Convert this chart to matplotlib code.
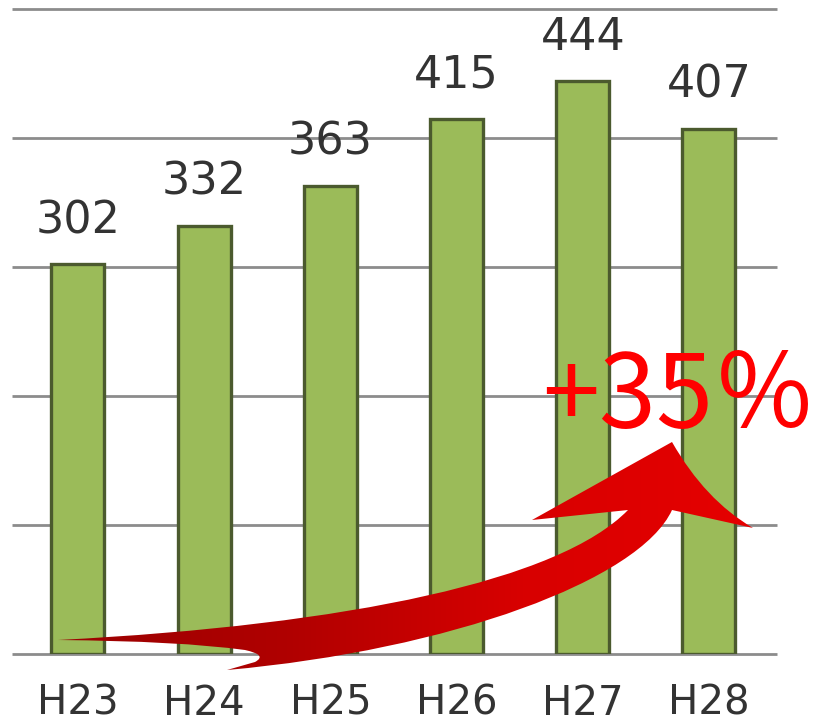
import matplotlib
matplotlib.use("Agg")
import matplotlib.pyplot as plt
import numpy as np
from matplotlib.path import Path
from matplotlib.patches import PathPatch
from matplotlib.colors import LinearSegmentedColormap

# ---- data ----
categories = ["H23", "H24", "H25", "H26", "H27", "H28"]
values = [302, 332, 363, 415, 444, 407]
grid_values = [0, 100, 200, 300, 400, 500]
growth_label = "+35％"

W, H = 819, 724
fig = plt.figure(figsize=(W / 100, H / 100), dpi=100)
fig.patch.set_facecolor("white")

# main axes: bottom at baseline (y=654 px), top at figure top
ax = fig.add_axes([0, 1 - 654 / H, 1, 654 / H])
ax.set_xlim(-0.618, 5.872)
ax.set_ylim(0, 654 / 1.29)
for s in ax.spines.values():
    s.set_visible(False)
ax.set_yticks([])

x = np.arange(len(categories))
ax.hlines(grid_values, -0.523, 5.539, color="#8c8c8c", lw=2.0, zorder=1, clip_on=False)
ax.bar(x, values, width=0.42, color="#9BBB59", edgecolor="#4B5A2E", lw=2.4, zorder=2)

for xi, v in zip(x, values):
    ax.annotate(str(v), (xi, v), xytext=(0, 22.5), textcoords="offset points",
                ha="center", va="baseline", fontsize=32, color="#333333",
                family="DejaVu Sans")

ax.set_xticks(x)
ax.set_xticklabels(categories, fontsize=29, color="#333333", family="DejaVu Sans")
ax.tick_params(axis="x", length=0, pad=21.5)

# overlay axes in pixel coordinates for the arrow and the growth text
ov = fig.add_axes([0, 0, 1, 1], zorder=5)
ov.set_xlim(0, W)
ov.set_ylim(H, 0)
ov.axis("off")
ov.patch.set_alpha(0)

verts = [
    (58, 640),
    (350, 625), (560, 580), (628, 510),      # upper edge
    (532, 520),                              # left barb
    (672, 442),                              # tip
    (705, 500), (753, 528),                  # right edge of head
    (672, 510),                              # back to shaft
    (640, 580), (450, 650), (227, 670),      # lower edge
    (255, 662),
    (268, 655), (245, 650),                  # notch
    (180, 641), (58, 640),
    (58, 640),
]
codes = [
    Path.MOVETO,
    Path.CURVE4, Path.CURVE4, Path.CURVE4,
    Path.LINETO,
    Path.LINETO,
    Path.CURVE3, Path.CURVE3,
    Path.LINETO,
    Path.CURVE4, Path.CURVE4, Path.CURVE4,
    Path.LINETO,
    Path.CURVE3, Path.CURVE3,
    Path.CURVE3, Path.CURVE3,
    Path.CLOSEPOLY,
]
patch = PathPatch(Path(verts, codes), facecolor="none", edgecolor="none")
ov.add_patch(patch)
cmap = LinearSegmentedColormap.from_list("redgrad", ["#9A0000", "#B00000", "#D80000", "#E60000"])
grad = np.linspace(0, 1, 256).reshape(1, -1)
im = ov.imshow(grad, extent=(50, 760, 680, 430), cmap=cmap, aspect="auto", zorder=3)
im.set_clip_path(patch)

ov.text(816, 428, growth_label, ha="right", va="baseline", fontsize=74, color="#FF0000",
        family=["Noto Sans CJK JP", "DejaVu Sans"], zorder=6)

fig.savefig("out.png", dpi=100)
